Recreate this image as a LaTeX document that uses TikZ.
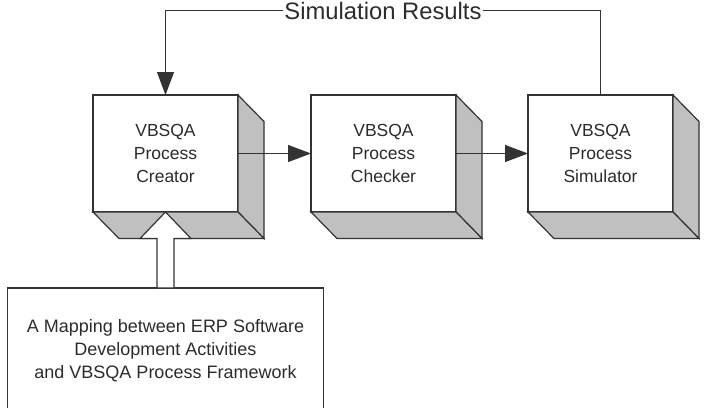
\documentclass[tikz,border=0pt]{standalone}
\usepackage{fontspec}
\setmainfont{Liberation Sans}
\usetikzlibrary{arrows.meta,calc}
\definecolor{linec}{HTML}{333333}
\definecolor{sidec}{HTML}{C0C0C0}
\definecolor{textc}{HTML}{2C2C2C}
\begin{document}
\begin{tikzpicture}[x=1pt,y=-1pt,
  line width=1.2pt,
  front/.style={draw=linec, fill=white, minimum width=145pt, minimum height=117pt,
    inner sep=0pt, outer sep=0pt, align=center, text=textc,
    font=\fontsize{17.5}{23}\selectfont},
  sideface/.style={draw=linec, fill=sidec, line join=miter},
  flow/.style={draw=linec, -{Triangle[length=23pt,width=17pt]}},
  plainline/.style={draw=linec},
  mapbox/.style={draw=linec, fill=white, minimum width=316pt, minimum height=126pt,
    inner sep=0pt, outer sep=0pt, align=center, text=textc,
    font=\fontsize{18}{23}\selectfont},
  labelstyle/.style={inner xsep=1.5pt, inner ysep=0pt, outer sep=0pt, text=textc,
    font=\fontsize{23.8}{26}\selectfont}
]
\useasboundingbox (0,0) rectangle (706,407);
\clip (0,0) rectangle (706,407);

% front faces
\node[front] (c1) at (165.5,153.5) {VBSQA\\Process\\Creator};
\node[front] (c2) at (383.5,153.5) {VBSQA\\Process\\Checker};
\node[front] (c3) at (600.5,153.5) {VBSQA\\Process\\Simulator};

% extrusions
\foreach \n in {c1,c2,c3}{
  \draw[sideface] (\n.north east) -- ++(26,26.5) -- ++(0,117) -- (\n.south east) -- cycle;
  \draw[sideface] (\n.south west) -- (\n.south east) -- ++(26,26.5) -- ++(-145,0) -- cycle;
}

% mapping box
\node[mapbox] (map) at (165.5,351) {A Mapping between ERP Software\\Development Activities\\and VBSQA Process Framework};

% label
\node[labelstyle] (lbl) at (383,10.5) {Simulation Results};

% connectors
\draw[flow] (c1.east) -- (c2.west);
\draw[flow] (c2.east) -- (c3.west);
\draw[plainline] (c3.north) |- (lbl.east);
\draw[flow] (lbl.west) -| (c1.north);

% hollow arrow
\draw[draw=linec, fill=white, line join=miter]
  (c1.south) -- ++(25.5,26.5) -- ++(-17,0)
  -- ($(map.north)+(8.5,0)$) -- ($(map.north)+(-8.5,0)$)
  -- ($(c1.south)+(-8.5,26.5)$) -- ++(-17,0) -- cycle;
\end{tikzpicture}
\end{document}
